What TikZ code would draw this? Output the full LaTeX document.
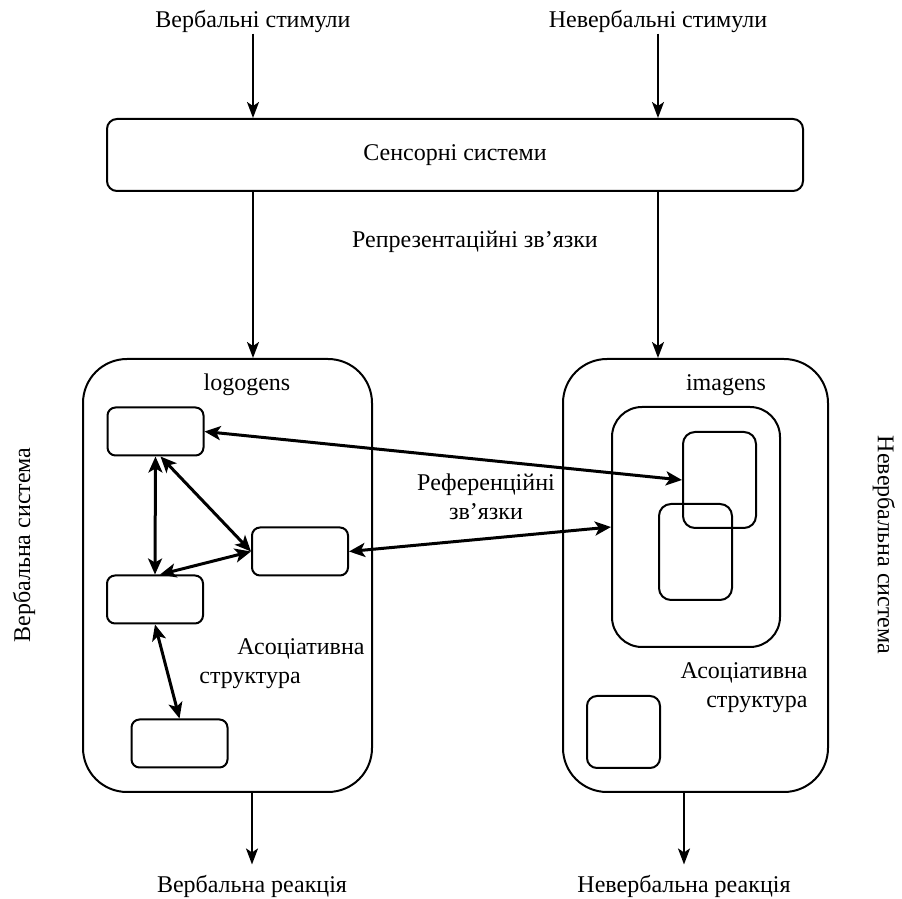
\documentclass[tikz,border=0pt]{standalone}
\usepackage{fontspec}
\setmainfont{Liberation Serif}
\usetikzlibrary{arrows.meta}

\begin{document}
\begin{tikzpicture}[x=0.5pt,y=-0.5pt,
		txt/.style={font=\fontsize{12pt}{14.5pt}\selectfont,inner sep=0pt},
		rbox/.style={draw,line width=1pt,inner sep=0pt,rounded corners=#1},
		rbox/.default=4pt,
		logobox/.style={rbox,minimum width=48pt,minimum height=24pt},
		flow/.style={line width=1pt,-{Stealth[length=8pt,width=6pt,inset=2pt]}},
		assoc/.style={line width=1.5pt,{Stealth[length=8pt,width=7pt,inset=2pt]}-{Stealth[length=8pt,width=7pt,inset=2pt]}}]
		\newcommand{\logo}[3]{\node[logobox] (#1) at (#2,#3) {};}
		\newcommand{\imag}[5][6pt]{\node[rbox=#1,minimum width=#4,minimum height=#5] (#2) at (#3) {};}
		\newcommand{\assocto}[2]{\draw[assoc] (#1) -- (#2);}
		
		\useasboundingbox (0,0) rectangle (902,899);
		
		\node[txt] (vstim) at (253,22) {Вербальні стимули};
		\node[txt] (nstim) at (658,22) {Невербальні стимули};
		\node[rbox=5pt,txt,minimum width=348pt,minimum height=36pt] (sens) at (455,155) {Сенсорні системи};
		\node[txt] (repr) at (475,242) {Репрезентаційні зв’язки};
		
		\node[rbox=22pt,minimum width=144.5pt,minimum height=216.5pt] (vsys) at (227.5,575.5) {};
		\node[rbox=22pt,minimum width=132.5pt,minimum height=216.5pt] (nsys) at (695.5,575.5) {};
		\node[txt] (logog) at (247,385) {logogens};
		\node[txt] (imagg) at (726,385) {imagens};
		
		\logo{la}{155.5}{431.5}
		\logo{lb}{300}{551.5}
		\logo{lc}{155}{599.5}
		\logo{ld}{179.5}{743.5}
		
		\imag[15pt]{icont}{696,527}{84pt}{120pt}
		\imag{ia}{719.5,480}{36.5pt}{48pt}
		\imag{ib}{695.5,552}{36.5pt}{48pt}
		\imag[5pt]{isq}{623.5,732}{36.5pt}{36pt}
		
		\node[txt,align=center] (refr) at (486,497) {Референційні\\зв’язки};
		\node[txt,align=left,anchor=west] (vassoc) at (199,664) {\hspace*{19pt}Асоціативна\\структура};
		\node[txt,align=right,anchor=east] (nassoc) at (808,688) {Асоціативна\\структура};
		
		\node[txt,rotate=90] (vname) at (24,545) {Вербальна система};
		\node[txt,rotate=-90] (nname) at (884,545) {Невербальна система};
		
		\node[txt] (vreact) at (252,886) {Вербальна реакція};
		\node[txt] (nreact) at (684,886) {Невербальна реакція};
		
		\draw[flow] (vstim) -- (sens.north -| vstim);
		\draw[flow] (nstim) -- (sens.north -| nstim);
		\draw[flow] (sens.south -| vstim) -- (vsys.north -| vstim);
		\draw[flow] (sens.south -| nstim) -- (nsys.north -| nstim);
		\draw[flow,shorten >=5pt] (vsys.south -| vreact) -- (vreact);
		\draw[flow,shorten >=5pt] (nsys.south -| nreact) -- (nreact);
		
		\assocto{la.east}{ia.west}
		\assocto{lb.east}{icont.west}
		\assocto{la.south}{lc.north}
		\assocto{[xshift=2.5pt]la.south}{lb.west}
		\assocto{[xshift=2.5pt]lc.north}{lb.west}
		\assocto{lc.south}{ld.north}
	\end{tikzpicture}
\end{document}
